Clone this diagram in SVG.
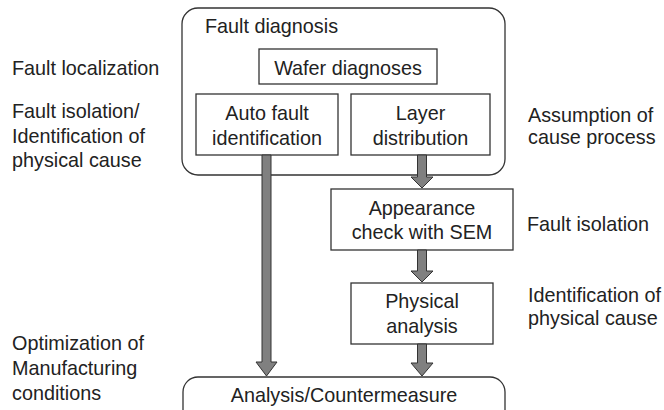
<svg xmlns="http://www.w3.org/2000/svg" width="664" height="410" viewBox="0 0 664 410">
<style>
text{font-family:"Liberation Sans",Arial,sans-serif;font-size:19.8px;fill:#222}
.box{fill:#fff;stroke:#333;stroke-width:1.3}
.c{text-anchor:middle}
.arrow{fill:#808080;stroke:#333;stroke-width:1}
</style>
<rect width="664" height="410" fill="#fff"/>
<g id="fault-diagnosis">
<rect class="box" x="182" y="8" width="323" height="167" rx="16"/>
<text x="205" y="33">Fault diagnosis</text>
</g>
<g id="wafer-diagnoses">
<rect class="box" x="259" y="49" width="178" height="35"/>
<text class="c" x="348" y="75">Wafer diagnoses</text>
</g>
<g id="auto-fault">
<rect class="box" x="196" y="94" width="142" height="61"/>
<text class="c" x="267" y="120">Auto fault</text>
<text class="c" x="267" y="145">identification</text>
</g>
<g id="layer-distribution">
<rect class="box" x="351" y="94" width="139" height="61"/>
<text class="c" x="420.5" y="120">Layer</text>
<text class="c" x="420.5" y="145">distribution</text>
</g>
<g id="appearance">
<rect class="box" x="331" y="189" width="182" height="61"/>
<text class="c" x="422" y="215">Appearance</text>
<text class="c" x="422" y="239">check with SEM</text>
</g>
<g id="physical-analysis">
<rect class="box" x="351" y="283" width="142" height="61"/>
<text class="c" x="422" y="308">Physical</text>
<text class="c" x="422" y="333">analysis</text>
</g>
<g id="analysis-countermeasure">
<rect class="box" x="183" y="377" width="322" height="50" rx="15"/>
<text class="c" x="344" y="402">Analysis/Countermeasure</text>
</g>
<g id="connectors">
<polygon class="arrow" points="262,155 271,155 271,362 277,362 266.5,376 256,362 262,362"/>
<polygon class="arrow" points="417.5,155 426.5,155 426.5,177 433,177 422,188 411,177 417.5,177"/>
<polygon class="arrow" points="417.5,250 426.5,250 426.5,271 433,271 422,282 411,271 417.5,271"/>
<polygon class="arrow" points="417.5,344 426.5,344 426.5,363 433,363 422,376 411,363 417.5,363"/>
</g>
<g id="labels">
<text x="12" y="75">Fault localization</text>
<text x="12" y="118">Fault isolation/</text>
<text x="12" y="143">Identification of</text>
<text x="12" y="167">physical cause</text>
<text x="12" y="350">Optimization of</text>
<text x="12" y="375">Manufacturing</text>
<text x="12" y="400">conditions</text>
<text x="528" y="122">Assumption of</text>
<text x="528" y="144">cause process</text>
<text x="527" y="231">Fault isolation</text>
<text x="528" y="302">Identification of</text>
<text x="528" y="325">physical cause</text>
</g>
</svg>
